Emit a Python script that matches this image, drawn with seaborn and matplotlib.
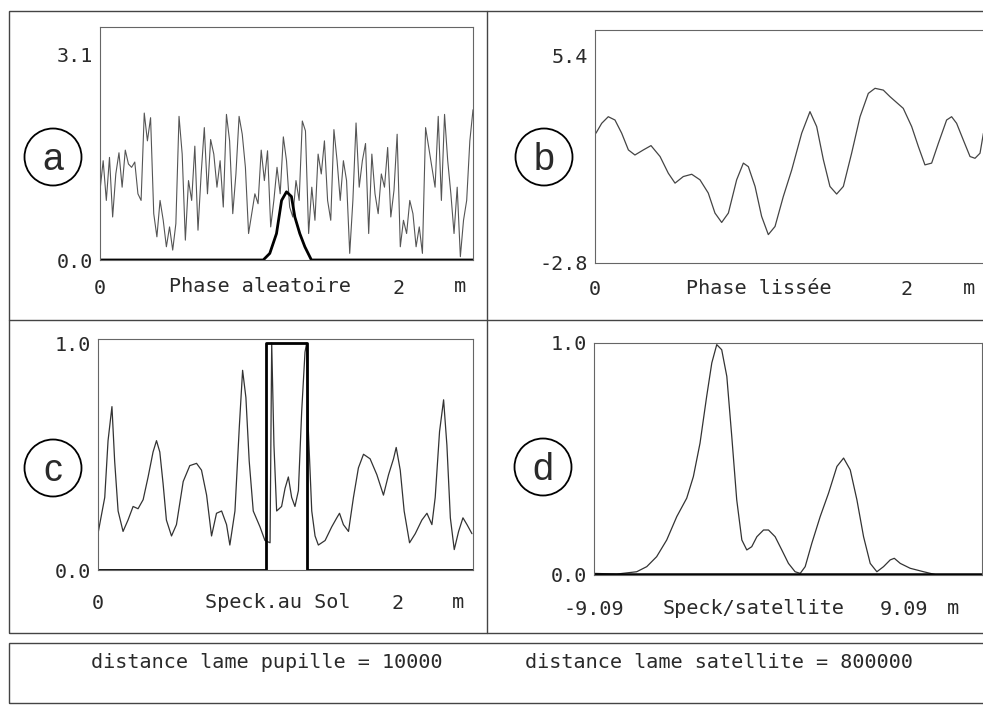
import numpy as np
import pandas as pd
import matplotlib
matplotlib.use("Agg")
import matplotlib.pyplot as plt
import seaborn as sns
from matplotlib.patches import Circle, Rectangle

# ---- data ----
# (a) random phase, metres 0..2.5 (evenly sampled)
phase_raw = [1.05, 1.5, 0.9, 1.55, 0.65, 1.3, 1.62, 1.1, 1.66, 1.45, 1.4, 1.48,
             1.0, 0.9, 2.22, 1.8, 2.15, 0.7, 0.35, 0.9, 0.6, 0.2, 0.5, 0.15,
             0.55, 2.17, 1.6, 0.3, 1.2, 0.9, 1.72, 0.45, 1.3, 2.0, 1.0, 1.82,
             1.6, 1.1, 1.5, 0.8, 2.2, 1.8, 0.7, 1.3, 2.17, 1.9, 1.4, 0.4,
             0.7, 1.0, 0.85, 1.66, 1.2, 1.65, 0.5, 0.9, 1.4, 1.0, 1.86, 1.5,
             0.8, 0.65, 1.2, 0.9, 2.1, 1.95, 0.4, 1.1, 0.6, 1.6, 1.3, 1.8,
             0.9, 0.6, 1.97, 1.5, 0.9, 1.5, 1.2, 0.1, 0.9, 2.07, 1.1, 1.5,
             1.76, 0.4, 1.6, 1.0, 0.7, 1.3, 1.1, 1.7, 0.65, 1.05, 1.9, 0.2,
             0.6, 0.4, 0.9, 0.7, 0.2, 0.5, 0.1, 2.0, 1.7, 1.4, 1.1, 2.17,
             0.9, 2.2, 1.5, 1.0, 0.4, 1.1, 0.05, 0.6, 0.9, 1.8, 2.27]
window_x = [0.0, 1.094, 1.138, 1.183, 1.217, 1.25, 1.283, 1.306, 1.339, 1.373, 1.417, 2.5]
window_y = [0.0, 0.0, 0.1, 0.4, 0.9, 1.03, 0.96, 0.65, 0.4, 0.2, 0.0, 0.0]

# (b) smoothed phase
smooth_x = [0.006, 0.043, 0.085, 0.128, 0.171, 0.214, 0.256, 0.31, 0.359, 0.417,
            0.47, 0.513, 0.566, 0.62, 0.673, 0.726, 0.769, 0.812, 0.855, 0.908,
            0.951, 0.983, 1.026, 1.068, 1.111, 1.154, 1.207, 1.261, 1.325, 1.378,
            1.421, 1.464, 1.506, 1.549, 1.592, 1.645, 1.699, 1.752, 1.795, 1.848,
            1.891, 1.976, 2.03, 2.073, 2.115, 2.158, 2.201, 2.254, 2.286, 2.318,
            2.361, 2.404, 2.436, 2.468, 2.49]
smooth_y = [2.32, 2.71, 2.97, 2.84, 2.32, 1.66, 1.46, 1.66, 1.83, 1.4,
            0.74, 0.35, 0.61, 0.7, 0.48, -0.04, -0.83, -1.2, -0.83, 0.48,
            1.14, 1.0, 0.22, -0.96, -1.68, -1.36, -0.18, 0.87, 2.32, 3.17,
            2.58, 1.27, 0.22, -0.08, 0.22, 1.53, 2.97, 3.89, 4.09, 4.02,
            3.76, 3.3, 2.58, 1.79, 1.07, 1.14, 1.92, 2.84, 2.97, 2.71,
            2.05, 1.4, 1.33, 1.53, 2.32]

# (c) ground speckle
speck_x = [0.0, 0.011, 0.045, 0.067, 0.093, 0.111, 0.134, 0.167, 0.2, 0.234,
           0.267, 0.301, 0.334, 0.367, 0.39, 0.412, 0.434, 0.456, 0.49, 0.523,
           0.568, 0.612, 0.657, 0.69, 0.724, 0.757, 0.79, 0.824, 0.857, 0.879,
           0.913, 0.942, 0.964, 0.986, 1.008, 1.035, 1.08, 1.113, 1.147, 1.158,
           1.173, 1.191, 1.224, 1.247, 1.269, 1.291, 1.313, 1.336, 1.358, 1.38,
           1.391, 1.402, 1.425, 1.447, 1.469, 1.514, 1.558, 1.592, 1.61, 1.636,
           1.67, 1.703, 1.736, 1.77, 1.814, 1.859, 1.903, 1.937, 1.97, 1.988,
           2.015, 2.041, 2.077, 2.115, 2.159, 2.193, 2.226, 2.248, 2.277, 2.304,
           2.326, 2.349, 2.375, 2.404, 2.433, 2.46, 2.493]
speck_y = [0.16, 0.2, 0.32, 0.57, 0.72, 0.48, 0.26, 0.17, 0.22, 0.28,
           0.27, 0.31, 0.41, 0.52, 0.57, 0.52, 0.38, 0.22, 0.15, 0.2,
           0.39, 0.46, 0.47, 0.44, 0.33, 0.15, 0.25, 0.26, 0.2, 0.11,
           0.26, 0.63, 0.88, 0.76, 0.48, 0.26, 0.19, 0.13, 0.12, 1.0,
           0.55, 0.26, 0.28, 0.36, 0.41, 0.32, 0.28, 0.35, 0.7, 0.96,
           1.0, 0.62, 0.26, 0.15, 0.11, 0.13, 0.19, 0.23, 0.25, 0.2,
           0.17, 0.32, 0.45, 0.51, 0.49, 0.42, 0.33, 0.42, 0.49, 0.54,
           0.44, 0.26, 0.12, 0.16, 0.22, 0.25, 0.2, 0.32, 0.61, 0.75,
           0.55, 0.23, 0.09, 0.17, 0.23, 0.2, 0.16]
aperture_x = [0.0, 1.118, 1.118, 1.391, 1.391, 2.5]
aperture_y = [0.0, 0.0, 1.0, 1.0, 0.0, 0.0]

# (d) speckle at satellite
sat_x = [-9.09, -7.76, -6.59, -6.0, -5.42, -4.83, -4.24, -3.66, -3.27, -2.88,
         -2.49, -2.19, -1.9, -1.61, -1.31, -1.02, -0.73, -0.43, -0.14, 0.15,
         0.45, 0.84, 1.13, 1.52, 1.91, 2.3, 2.69, 2.99, 3.28, 3.67,
         4.16, 4.65, 5.14, 5.53, 5.92, 6.31, 6.7, 7.09, 7.48, 7.87,
         8.26, 8.5, 8.85, 9.43, 10.22, 11.0, 12.17, 13.54]
sat_y = [0.007, 0.004, 0.014, 0.036, 0.079, 0.151, 0.252, 0.331, 0.424, 0.568,
         0.77, 0.914, 0.993, 0.971, 0.856, 0.597, 0.324, 0.151, 0.108, 0.122,
         0.165, 0.194, 0.194, 0.165, 0.108, 0.05, 0.014, 0.007, 0.036, 0.137,
         0.252, 0.353, 0.468, 0.504, 0.453, 0.324, 0.165, 0.05, 0.014, 0.036,
         0.065, 0.072, 0.05, 0.029, 0.014, 0.0, 0.0, 0.0]

panel_letters = ["a", "b", "c", "d"]
panel_names = ["Phase aleatoire", "Phase lissée", "Speck.au Sol", "Speck/satellite"]
yticks = [(0.0, 3.1), (-2.8, 5.4), (0.0, 1.0), (0.0, 1.0)]
ytick_labels = [("0.0", "3.1"), ("-2.8", "5.4"), ("0.0", "1.0"), ("0.0", "1.0")]
xlims = [(0.0, 2.5), (0.0, 2.5), (0.0, 2.5), (-9.09, 13.6375)]
xtick_labels = [("0", "2"), ("0", "2"), ("0", "2"), ("-9.09", "9.09")]
footer = ["distance lame pupille = 10000", "distance lame satellite = 800000"]

# ---- figure ----
sns.set_style("white")
plt.rcParams["font.family"] = ["DejaVu Sans Mono"]
W, H = 983, 713
fig = plt.figure(figsize=(W / 100, H / 100), dpi=100)
INK = "#2a2a2a"


def axes_px(l, t, r, b):
    return fig.add_axes([l / W, 1 - b / H, (r - l) / W, (b - t) / H])


boxes = [(100, 27, 473, 260), (595, 30, 985, 263), (98, 339, 473, 570), (594, 343, 982, 575)]
ylims = [(0.0, 3.52), (-2.8, 6.39), (0.0, 1.018), (0.0, 1.0)]
name_pos = [0.43, 0.42, 0.48, 0.41]
m_pos = [0.965, 0.96, 0.96, 0.925]
label_off = [27, 25, 32, 33]
circles = [(53, 157), (544, 157), (53, 468), (543, 467)]

axes = [axes_px(*b) for b in boxes]

sns.lineplot(x=np.linspace(0, 2.5, len(phase_raw)), y=phase_raw, ax=axes[0],
             color="#555555", linewidth=0.8, estimator=None, sort=False)
sns.lineplot(x=window_x, y=window_y, ax=axes[0], color="black", linewidth=2.0,
             estimator=None, sort=False)
sns.lineplot(x=smooth_x, y=smooth_y, ax=axes[1], color="#444444", linewidth=0.9,
             estimator=None, sort=False)
sns.lineplot(x=speck_x, y=speck_y, ax=axes[2], color="#333333",
             linewidth=0.9, estimator=None, sort=False)
sns.lineplot(x=aperture_x, y=aperture_y, ax=axes[2], color="black", linewidth=2.0,
             estimator=None, sort=False)
sns.lineplot(x=sat_x, y=sat_y, ax=axes[3], color="#333333", linewidth=0.9,
             estimator=None, sort=False)
# baseline of panel d
axes[3].axhline(0.004, color="black", linewidth=1.8)

for i, ax in enumerate(axes):
    x0, x1 = xlims[i]
    ax.set_xlim(x0, x1)
    ax.set_ylim(*ylims[i])
    ticks = np.linspace(x0, x1, 11)
    labels = [""] * 11
    labels[0], labels[8] = xtick_labels[i]
    ax.set_xticks(ticks, labels)
    ax.set_yticks(yticks[i], ytick_labels[i])
    ax.tick_params(axis="x", direction="out", length=4, width=0.8, color="#555555",
                   pad=label_off[i] * 0.72 - 9.5, labelsize=14.5, labelcolor=INK)
    ax.tick_params(axis="y", length=0, pad=5, labelsize=14.5, labelcolor=INK)
    for s in ax.spines.values():
        s.set_color("#666666")
        s.set_linewidth(0.8)
    ax.set_xlabel("")
    ax.set_ylabel("")
    h = boxes[i][3] - boxes[i][1]
    ax.text(name_pos[i], -label_off[i] / h, panel_names[i], transform=ax.transAxes,
            ha="center", va="center", fontsize=14.5, color=INK)
    ax.text(m_pos[i], -label_off[i] / h, "m", transform=ax.transAxes,
            ha="center", va="center", fontsize=14.5, color=INK)
    cx, cy = circles[i]
    fig.add_artist(Circle((cx / 100, (H - cy) / 100), 0.285, transform=fig.dpi_scale_trans,
                          fill=False, edgecolor="black", linewidth=1.3))
    fig.text(cx / W, 1 - (cy + 3) / H, panel_letters[i], ha="center", va="center",
             fontsize=27, family="Liberation Sans", color=INK)

# frames of the plotter sheet
frame = dict(transform=fig.dpi_scale_trans, fill=False, edgecolor="#444444", linewidth=1.0)
fig.add_artist(Rectangle((0.09, (H - 633) / 100), 9.9, 6.22, **frame))
fig.add_artist(Rectangle((0.09, (H - 703) / 100), 9.9, 0.6, **frame))
fig.add_artist(plt.Line2D([487 / W, 487 / W], [1 - 633 / H, 1 - 11 / H], color="#444444", linewidth=1.0))
fig.add_artist(plt.Line2D([9 / W, 1.0], [1 - 320 / H, 1 - 320 / H], color="#444444", linewidth=1.0))

fig.text(91 / W, 1 - 663 / H, footer[0], ha="left", va="center", fontsize=14.5, color=INK)
fig.text(525 / W, 1 - 663 / H, footer[1], ha="left", va="center", fontsize=14.5, color=INK)

fig.savefig("out.png", dpi=100, facecolor="white")
